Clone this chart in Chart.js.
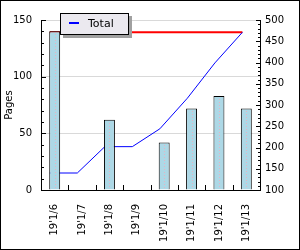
<!DOCTYPE html>
<html>
<head>
<meta charset="utf-8">
<script src="https://cdn.jsdelivr.net/npm/chart.js@4.4.1/dist/chart.umd.min.js"></script>
<style>
  html, body { margin: 0; padding: 0; background: #fff; }
  #box { width: 298px; height: 248px; border: 1px solid #000; }
  canvas { display: block; }
</style>
</head>
<body>
<div id="box"><canvas id="pagesChart" width="298" height="248"></canvas></div>
<script>
// values
var days = ["19'1/6", "19'1/7", "19'1/8", "19'1/9", "19'1/10", "19'1/11", "19'1/12", "19'1/13"];
var pagesPerDay = [140, null, 62, null, 42, 72, 83, 72];
var totalPages = [140, 140, 202, 202, 244, 316, 399, 471];
var finalTotal = [471, 471, 471, 471, 471, 471, 471, 471];
var leftTicks = [0, 50, 100, 150];
var rightTicks = [100, 150, 200, 250, 300, 350, 400, 450, 500];

var labelFont = { family: 'DejaVu Sans', size: 10 };

// inward tick marks, dotted bar centres and the boxed legend
var decorations = {
   id: 'decorations',
   afterDatasetsDraw(chart) {
       var ctx = chart.ctx, a = chart.chartArea;
       var yl = chart.scales.y, yr = chart.scales.y2, x = chart.scales.x;
       ctx.save();

       ctx.fillStyle = '#e6b3c3';
       chart.getDatasetMeta(0).data.forEach(function (bar) {
           if (isNaN(bar.y)) return;
           var cx = Math.round(bar.x);
           for (var y = Math.round(bar.y) + 3; y < bar.base - 1; y += 3) ctx.fillRect(cx, y, 1, 1);
       });

       ctx.fillStyle = '#000';
       for (var v = 0; v <= 150; v += 10) {
           var py = Math.round(yl.getPixelForValue(v));
           ctx.fillRect(a.left, py, v % 50 === 0 ? 5 : 3, 1);
       }
       for (var w = 100; w <= 500; w += 10) {
           var qy = Math.round(yr.getPixelForValue(w));
           var len = w % 50 === 0 ? 5 : 3;
           ctx.fillRect(a.right - len + 1, qy, len, 1);
       }
       var slot = x.width / days.length;
       for (var i = 1; i < days.length; i++) {
           var px = Math.round(x.getPixelForValue(i) - slot / 2);
           ctx.fillRect(px, a.bottom - 5, 1, 5);
       }
       ctx.restore();
   },
   afterDraw(chart) {
       var ctx = chart.ctx;
       ctx.save();
       ctx.fillStyle = '#a0a0a0';
       ctx.fillRect(62, 15, 69, 22);
       ctx.fillStyle = '#ebe9ef';
       ctx.fillRect(59, 12, 69, 22);
       ctx.strokeStyle = '#000';
       ctx.lineWidth = 1;
       ctx.strokeRect(59.5, 12.5, 68, 21);
       ctx.fillStyle = '#0000ff';
       ctx.fillRect(68, 21, 10, 2);
       ctx.fillStyle = '#000';
       ctx.font = '11px "DejaVu Sans"';
       ctx.textBaseline = 'middle';
       ctx.fillText(chart.data.datasets[1].label, 87, 23);
       ctx.restore();
   }
};

window.onload = function () {
   var ctx = document.getElementById('pagesChart').getContext('2d');
   new Chart(ctx, {
       data: {
           labels: days,
           datasets: [{
               type: 'bar',
               label: 'Pages',
               data: pagesPerDay,
               xAxisID: 'x',
               yAxisID: 'y',
               backgroundColor: '#add8e6',
               borderColor: '#000',
               borderWidth: 1,
               grouped: false,
               barPercentage: 0.4,
               categoryPercentage: 1,
               order: 0
           }, {
               type: 'line',
               label: 'Total',
               data: totalPages.map(function (v, i) { return { x: i, y: v }; }),
               xAxisID: 'xl',
               yAxisID: 'y2',
               borderColor: '#0000ff',
               borderWidth: 1,
               pointRadius: 0,
               tension: 0,
               order: 1
           }, {
               type: 'line',
               label: 'Final',
               data: finalTotal.map(function (v, i) { return { x: i, y: v }; }),
               xAxisID: 'xl',
               yAxisID: 'y2',
               borderColor: '#ff0000',
               borderWidth: 2,
               pointRadius: 0,
               order: 2
           }]
       },
       options: {
           responsive: false,
           animation: false,
           layout: { padding: { top: 19, left: 0, right: 0, bottom: 0 } },
           plugins: { legend: { display: false }, tooltip: { enabled: false } },
           scales: {
               x: {
                   type: 'category',
                   offset: true,
                   grid: { display: false, drawTicks: false },
                   border: { color: '#000' },
                   ticks: { autoSkip: false, minRotation: 90, maxRotation: 90, padding: 14, color: '#000', font: labelFont },
                   afterFit: function (s) { s.height = 59; }
               },
               xl: { type: 'linear', display: false, min: -0.32, max: 7.64 },
               y: {
                   position: 'left',
                   min: 0,
                   max: 150,
                   afterBuildTicks: function (s) { s.ticks = leftTicks.map(function (v) { return { value: v }; }); },
                   grid: { color: '#d9d9d9', drawTicks: false },
                   border: { color: '#000' },
                   ticks: { padding: 9, color: '#000', font: labelFont },
                   title: { display: true, text: 'Pages', color: '#000', font: labelFont, padding: { top: 2, bottom: 0 } },
                   afterFit: function (s) { s.width = 40; }
               },
               y2: {
                   position: 'right',
                   min: 100,
                   max: 500,
                   afterBuildTicks: function (s) { s.ticks = rightTicks.map(function (v) { return { value: v }; }); },
                   grid: { drawOnChartArea: false, drawTicks: false },
                   border: { color: '#000' },
                   ticks: { padding: 5, color: '#000', font: labelFont },
                   afterFit: function (s) { s.width = 39; }
               }
           }
       },
       plugins: [decorations]
   });
};
</script>
</body>
</html>
